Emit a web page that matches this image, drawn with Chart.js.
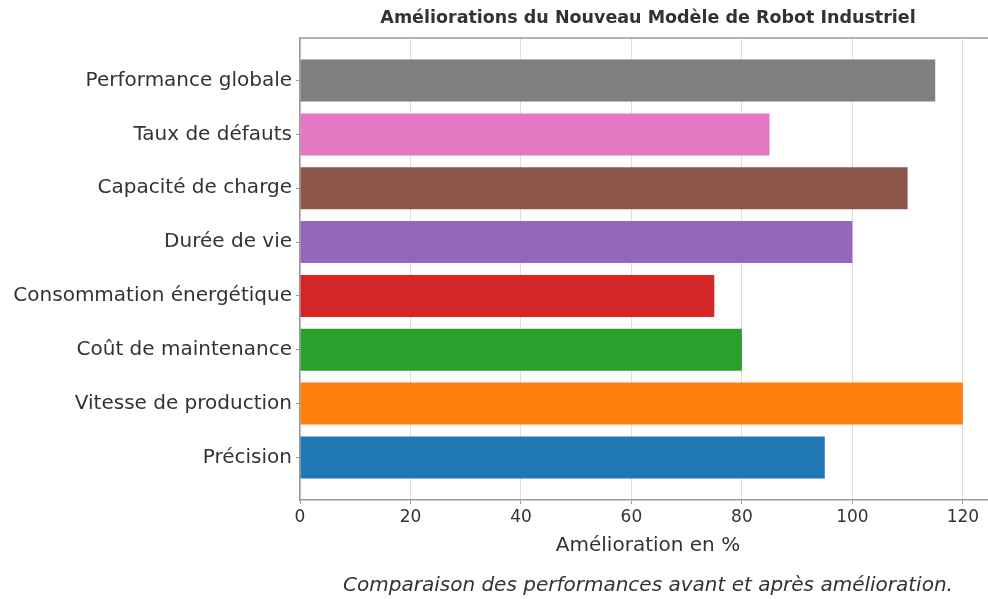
<!DOCTYPE html>
<html>
<head>
<meta charset="utf-8">
<script src="https://cdn.jsdelivr.net/npm/chart.js@4.4.1/dist/chart.umd.min.js"></script>
<style>
  html, body { margin: 0; padding: 0; background: #fff; overflow: hidden; }
  #wrap { width: 988px; height: 599px; overflow: hidden; }
</style>
</head>
<body>
<div id="wrap"><canvas id="robotChart" width="996" height="599"></canvas></div>
<script>
// Categories, bottom to top (as in the original horizontal bar chart)
const categories = [
    'Précision',
    'Vitesse de production',
    'Coût de maintenance',
    'Consommation énergétique',
    'Durée de vie',
    'Capacité de charge',
    'Taux de défauts',
    'Performance globale'
];
const improvements = [95, 120, 80, 75, 100, 110, 85, 115];
const barColors = ['#1f77b4', '#ff7f0e', '#2ca02c', '#d62728', '#9467bd', '#8c564b', '#e377c2', '#7f7f7f'];
const xTicks = [0, 20, 40, 60, 80, 100, 120];

const FONT = 'DejaVu Sans, sans-serif';
const TEXT = '#333333';
const SPINE = '#9a9a9a';

// Draw the top/right frame of the axes box
const frame = {
    id: 'frame',
    afterDraw(chart) {
        const { ctx, chartArea: a } = chart;
        ctx.save();
        ctx.strokeStyle = SPINE;
        ctx.lineWidth = 1.5;
        ctx.beginPath();
        ctx.moveTo(a.left, a.top);
        ctx.lineTo(a.right, a.top);
        ctx.lineTo(a.right, a.bottom);
        ctx.stroke();
        ctx.restore();
    }
};

const ctx = document.getElementById('robotChart');
new Chart(ctx, {
    type: 'bar',
    data: {
        datasets: [{
            data: improvements.map((v, i) => ({ x: v, y: i })),
            backgroundColor: barColors,
            borderWidth: 0,
            barPercentage: 0.78,
            categoryPercentage: 1
        }]
    },
    options: {
        indexAxis: 'y',
        responsive: false,
        animation: false,
        layout: { padding: 0 },
        plugins: {
            legend: { display: false },
            tooltip: { enabled: false },
            title: {
                display: true,
                fullSize: false,
                text: 'Améliorations du Nouveau Modèle de Robot Industriel',
                color: TEXT,
                font: { family: FONT, size: 17.5, weight: 'bold' },
                padding: { top: 8, bottom: 9 }
            },
            subtitle: {
                display: true,
                fullSize: false,
                position: 'bottom',
                text: 'Comparaison des performances avant et après amélioration.',
                color: TEXT,
                font: { family: FONT, size: 20, style: 'italic' },
                padding: { top: 7, bottom: 1 }
            }
        },
        scales: {
            x: {
                type: 'linear',
                min: 0,
                max: 126,
                z: 1,
                afterBuildTicks: scale => { scale.ticks = xTicks.map(v => ({ value: v })); },
                afterFit: scale => { scale.height = 67; },
                ticks: { color: TEXT, font: { family: FONT, size: 17 }, padding: 3 },
                grid: {
                    color: 'rgba(190,190,190,0.5)',
                    borderDash: [3, 3],
                    tickColor: SPINE,
                    tickBorderDash: [],
                    tickLength: 4,
                    lineWidth: 1
                },
                border: { display: true, color: SPINE, width: 1.5 },
                title: {
                    display: true,
                    text: 'Amélioration en %',
                    color: TEXT,
                    font: { family: FONT, size: 20 },
                    padding: { top: 4, bottom: 9 }
                }
            },
            y: {
                type: 'linear',
                min: -0.79,
                max: 7.79,
                offset: false,
                afterBuildTicks: scale => { scale.ticks = categories.map((c, i) => ({ value: i })); },
                afterFit: scale => { scale.width = 300; },
                ticks: {
                    color: TEXT,
                    font: { family: FONT, size: 20 },
                    padding: 4,
                    callback: v => categories[v]
                },
                grid: {
                    offset: false,
                    drawOnChartArea: false,
                    tickColor: SPINE,
                    tickLength: 4
                },
                border: { display: true, color: SPINE, width: 1.5 }
            }
        }
    },
    plugins: [frame]
});
</script>
</body>
</html>
